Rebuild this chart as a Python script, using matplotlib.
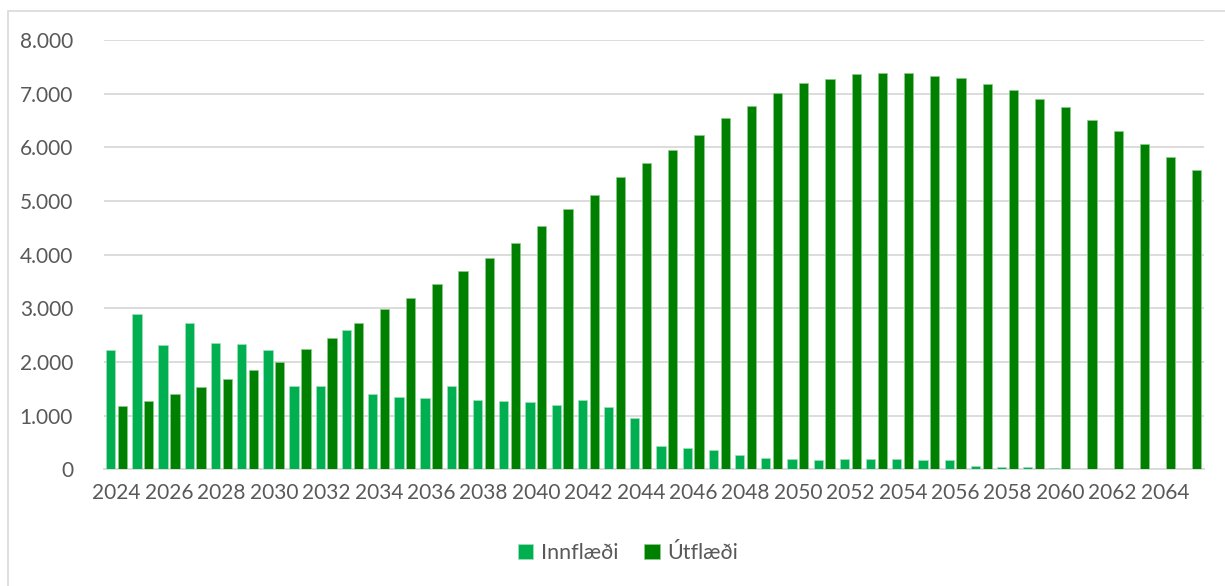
import matplotlib.pyplot as plt
import numpy as np
from matplotlib.ticker import FuncFormatter
from matplotlib.patches import Rectangle

plt.rcParams['font.family'] = ['Lato', 'DejaVu Sans']

# Data
years = list(range(2024, 2066))
innflaedi = [2220, 2900, 2320, 2730, 2360, 2340, 2230, 1560, 1545, 2600,
             1400, 1345, 1330, 1545, 1295, 1280, 1260, 1200, 1290, 1170,
             955, 440, 405, 365, 262, 218, 187, 180, 187, 187,
             187, 174, 168, 62, 50, 37, 25, 6, 0, 0,
             0, 0]
utflaedi = [1175, 1280, 1410, 1540, 1690, 1850, 2005, 2243, 2455, 2722,
            2985, 3200, 3458, 3704, 3946, 4225, 4541, 4844, 5111, 5446,
            5706, 5959, 6232, 6548, 6771, 7007, 7193, 7273, 7366, 7385,
            7379, 7335, 7292, 7180, 7063, 6901, 6747, 6511, 6301, 6059,
            5823, 5582]

light = '#00B050'
dark = '#008000'
txt = '#595959'
grid = '#D9D9D9'

fig = plt.figure(figsize=(12.25, 5.86), dpi=100)
ax = fig.add_axes([0.0846, 0.199, 0.8984, 0.7327])

x = np.arange(len(years))
w = 0.355
ax.bar(x - 0.23, innflaedi, w, color=light, edgecolor='#9FE0B8', linewidth=0.5,
       label='Innflæði', zorder=3)
ax.bar(x + 0.22, utflaedi, w, color=dark, edgecolor='#8CCB8C', linewidth=0.5,
       label='Útflæði', zorder=3)

ax.set_xlim(-0.5, len(years) - 0.5)
ax.set_ylim(0, 8000)
ax.set_yticks(range(0, 8001, 1000))
ax.yaxis.set_major_formatter(FuncFormatter(lambda v, p: f'{int(v):,}'.replace(',', '.')))
ax.set_xticks(x[::2])
ax.set_xticklabels([str(y) for y in years[::2]])

ax.grid(axis='y', color=grid, linewidth=1.3, zorder=0)
for s in ['top', 'right', 'left']:
    ax.spines[s].set_visible(False)
ax.spines['bottom'].set_color(grid)
ax.spines['bottom'].set_linewidth(1.3)
ax.tick_params(axis='both', length=0, labelsize=15, colors=txt)
ax.tick_params(axis='y', pad=22)
ax.tick_params(axis='x', pad=10)

fig.legend(loc='center', bbox_to_anchor=(628 / 1225, 1 - 553 / 586), ncol=2,
           frameon=False, fontsize=15.5, handlelength=0.72, handleheight=0.72,
           handletextpad=0.35, columnspacing=1.2, labelcolor=txt)

fig.patches.append(Rectangle((8 / 1225, -0.1), 1.1, 1.1 - 11 / 586,
                             transform=fig.transFigure, fill=False,
                             edgecolor=grid, linewidth=1.2))

fig.savefig('out.png', dpi=100)
